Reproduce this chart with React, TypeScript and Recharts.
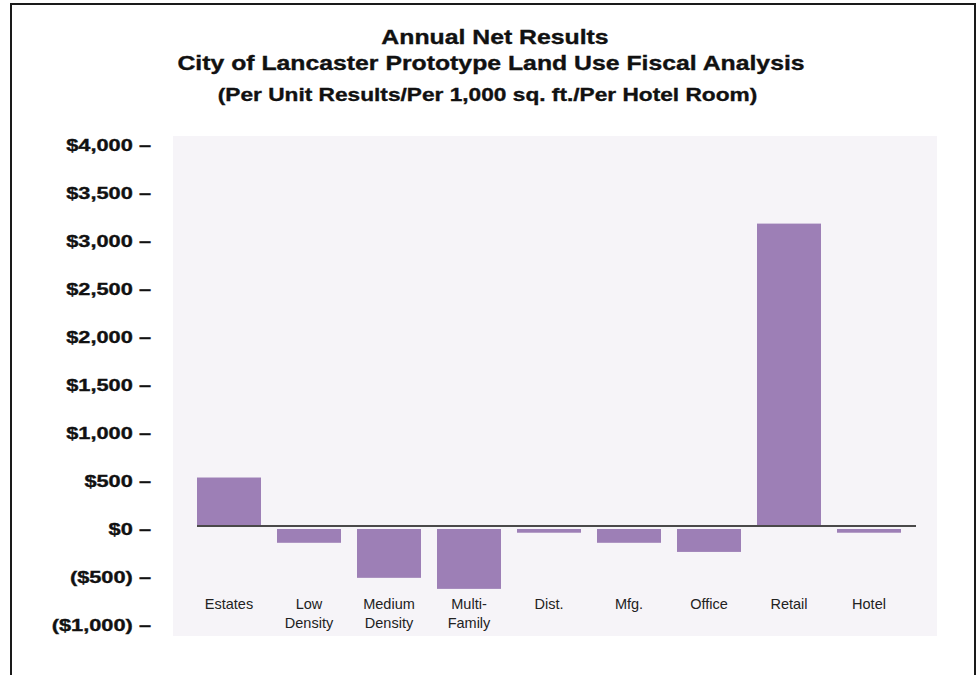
import { BarChart, Bar, XAxis, YAxis, ReferenceLine } from "recharts";

const categories = [
  "Estates",
  "Low Density",
  "Medium Density",
  "Multi-Family",
  "Dist.",
  "Mfg.",
  "Office",
  "Retail",
  "Hotel",
];
// annual net result per unit / per 1,000 sq. ft. / per hotel room
const netResults = [505, -175, -540, -655, -70, -175, -270, 3150, -70];
const yTicks = [-1000, -500, 0, 500, 1000, 1500, 2000, 2500, 3000, 3500, 4000];
const titleLines = [
  "Annual Net Results",
  "City of Lancaster Prototype Land Use Fiscal Analysis",
  "(Per Unit Results/Per 1,000 sq. ft./Per Hotel Room)",
];

const data = categories.map((name, i) => ({ name, value: netResults[i] }));

const FONT = '"Liberation Sans", Arial, sans-serif';
const BAR_COLOR = "#9d7fb6";

const money = (v: number) =>
  v < 0
    ? `($${Math.abs(v).toLocaleString("en-US")})`
    : `$${v.toLocaleString("en-US")}`;

// "Low Density" -> two lines, "Multi-Family" -> "Multi-" / "Family"
const splitLabel = (s: string) => {
  if (s.includes(" ")) return s.split(" ");
  const h = s.indexOf("-");
  if (h > 0) return [s.slice(0, h + 1), s.slice(h + 1)];
  return [s];
};

function YTick(props: any) {
  const { x, y, payload } = props;
  return (
    <text
      transform={`translate(${x},${y + 9}) scale(1.32,1)`}
      textAnchor="end"
      fontFamily={FONT}
      fontWeight="bold"
      fontSize={16.5}
      fill="#111"
      stroke="#111"
      strokeWidth={0.35}
    >
      {money(payload.value)} –
    </text>
  );
}

function XTick(props: any) {
  const { x, y, payload } = props;
  const lines = splitLabel(payload.value);
  return (
    <text textAnchor="middle" fontFamily={FONT} fontSize={14.5} fill="#222">
      {lines.map((l, i) => (
        <tspan key={i} x={x} y={y - 13 + i * 18.7}>
          {l}
        </tspan>
      ))}
    </text>
  );
}

// bars stand a pixel above the zero line, negative ones hang a bit below it
function GapBar(props: any) {
  const { x, y, width, height, fill, payload } = props;
  let top = Math.min(y, y + height);
  let bottom = Math.max(y, y + height);
  if (payload && payload.value < 0) top += 3;
  else bottom -= 1;
  return (
    <rect x={x} y={top} width={width} height={Math.max(bottom - top, 0)} fill={fill} />
  );
}

const titleX = [495, 491, 487.5];
const titleY = [44.3, 70.3, 101.2];
const titleSize = [20, 20, 18.3];

export default function App() {
  return (
    <div style={{ position: "absolute", left: 0, top: 0, width: 980, height: 675, overflow: "hidden", background: "#fff" }}>
      <div
        style={{
          position: "absolute",
          left: 10,
          top: 3,
          width: 966,
          height: 720,
          border: "2px solid #1a1a1a",
          boxSizing: "border-box",
        }}
      />
      <div
        style={{
          position: "absolute",
          left: 173,
          top: 136,
          width: 764,
          height: 500,
          background: "#f6f4f8",
        }}
      />
      <svg width={980} height={140} style={{ position: "absolute", left: 0, top: 0 }}>
        {titleLines.map((t, i) => (
          <text
            key={i}
            transform={`translate(${titleX[i]},${titleY[i]}) scale(1.24,1)`}
            textAnchor="middle"
            fontFamily={FONT}
            fontWeight="bold"
            fontSize={titleSize[i]}
            fill="#111"
            stroke="#111"
            strokeWidth={0.35}
          >
            {t}
          </text>
        ))}
      </svg>
      <div style={{ position: "absolute", left: 0, top: 0 }}>
        <BarChart
          width={980}
          height={675}
          data={data}
          margin={{ top: 142, right: 71, bottom: 23, left: 0 }}
        >
          <XAxis
            dataKey="name"
            height={30}
            interval={0}
            axisLine={false}
            tickLine={false}
            tickSize={0}
            tickMargin={0}
            tick={<XTick />}
          />
          <YAxis
            type="number"
            width={189}
            domain={[-1000, 4000]}
            ticks={yTicks}
            interval={0}
            axisLine={false}
            tickLine={false}
            tickSize={0}
            tickMargin={38}
            tick={<YTick />}
          />
          <Bar
            dataKey="value"
            fill={BAR_COLOR}
            barSize={64}
            shape={<GapBar />}
            isAnimationActive={false}
          />
          <ReferenceLine
            y={0}
            shape={(p: any) => (
              <line x1={p.x1 + 8} y1={p.y1} x2={p.x2 + 7} y2={p.y2} stroke="#111" strokeWidth={1.5} />
            )}
          />
        </BarChart>
      </div>
    </div>
  );
}
